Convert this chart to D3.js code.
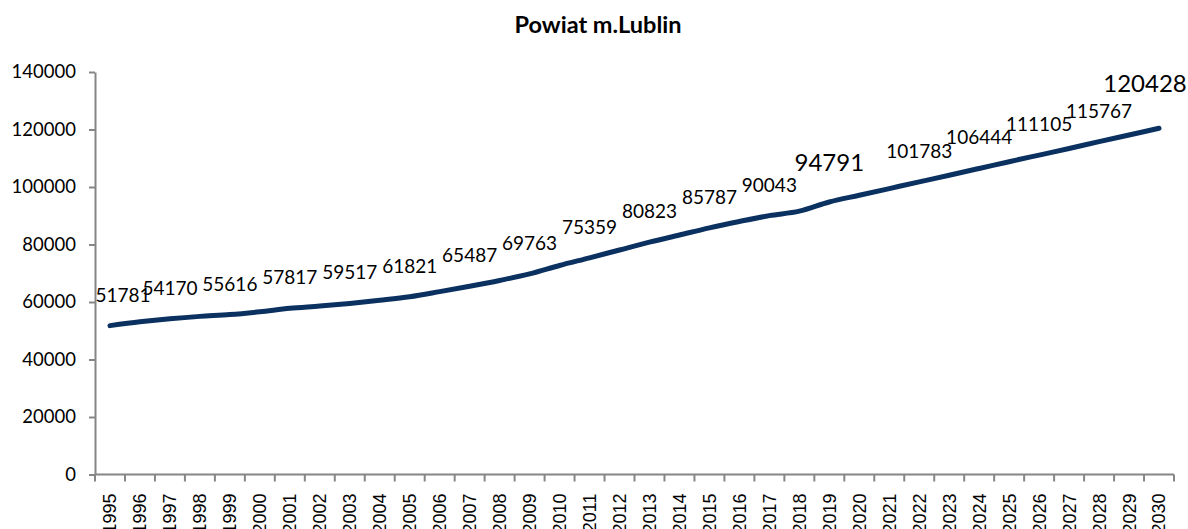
<!DOCTYPE html>
<html>
<head>
<meta charset="utf-8">
<script src="https://cdn.jsdelivr.net/npm/d3@7"></script>
<style>
  body { margin: 0; background: #fff; }
  .tick text { fill: #000; }
</style>
</head>
<body>
<div id="chart"></div>
<script>
var width = 1188, height = 529;
var margin = {top: 72, right: 14, bottom: 55, left: 95};

// data (even years between labels are estimates)
var years = ["1995","1996","1997","1998","1999","2000","2001","2002","2003","2004","2005","2006",
  "2007","2008","2009","2010","2011","2012","2013","2014","2015","2016","2017","2018",
  "2019","2020","2021","2022","2023","2024","2025","2026","2027","2028","2029","2030"];
var population = [51781, 53100, 54170, 55000, 55616, 56600, 57817, 58600, 59517, 60600, 61821, 63600,
  65487, 67500, 69763, 72700, 75359, 78100, 80823, 83300, 85787, 88000, 90043, 91600,
  94791, 97120, 99450, 101783, 104100, 106444, 108800, 111105, 113400, 115767, 118100, 120428];
var labelledYears = ["1995","1997","1999","2001","2003","2005","2007","2009","2011","2013","2015",
  "2017","2019","2022","2024","2026","2028","2030"];
var bigLabels = ["2019","2030"];
var yTicks = [0, 20000, 40000, 60000, 80000, 100000, 120000, 140000];
var title = "Powiat m.Lublin";

var svg = d3.select("#chart")
  .append("svg")
  .attr("width", width)
  .attr("height", height);

var x = d3.scaleBand()
  .domain(years)
  .range([margin.left, width - margin.right])
  .padding(0);

var y = d3.scaleLinear()
  .domain([0, 140000])
  .range([height - margin.bottom + 0.5, margin.top]);

svg.append("text")
  .text(title)
  .attr("x", 598)
  .attr("y", 33)
  .attr("text-anchor", "middle")
  .attr("font-family", "Lato, 'Liberation Sans', sans-serif")
  .attr("font-weight", "bold")
  .attr("font-size", "23.5px");

// y axis
var yAxis = svg.append("g")
  .attr("transform", "translate(" + margin.left + ",0)")
  .call(d3.axisLeft(y).tickValues(yTicks).tickSize(6).tickSizeOuter(0).tickPadding(13).tickFormat(d3.format("d")));
yAxis.selectAll("text")
  .attr("font-family", "Lato, 'Liberation Sans', sans-serif")
  .attr("font-size", "18.5px");
yAxis.selectAll("line, path").attr("stroke", "#868686").attr("stroke-width", 2);

// x axis with ticks between categories
var xAxis = svg.append("g")
  .attr("transform", "translate(0," + y(0) + ")");
xAxis.append("line")
  .attr("x1", margin.left)
  .attr("x2", width - margin.right)
  .attr("stroke", "#868686")
  .attr("stroke-width", 2);
xAxis.selectAll(".xtick")
  .data(years.concat(["end"]))
  .enter().append("line")
  .attr("x1", function(d, i) { return i < years.length ? x(d) : x.range()[1]; })
  .attr("x2", function(d, i) { return i < years.length ? x(d) : x.range()[1]; })
  .attr("y1", 0)
  .attr("y2", 7)
  .attr("stroke", "#868686")
  .attr("stroke-width", 2);
xAxis.selectAll(".xlabel")
  .data(years)
  .enter().append("text")
  .text(function(d) { return d; })
  .attr("transform", function(d) {
    return "translate(" + (x(d) + x.bandwidth() / 2) + ",19) rotate(-90)";
  })
  .attr("dy", "0.36em")
  .attr("text-anchor", "end")
  .attr("font-family", "'Liberation Sans', Arial, sans-serif")
  .attr("font-size", "18px");

// the line
var line = d3.line()
  .x(function(d, i) { return x(years[i]) + x.bandwidth() / 2; })
  .y(function(d) { return y(d); })
  .curve(d3.curveMonotoneX);

svg.append("path")
  .datum(population)
  .attr("d", line)
  .attr("fill", "none")
  .attr("stroke", "#0b3161")
  .attr("stroke-width", 5)
  .attr("stroke-linecap", "round")
  .attr("stroke-linejoin", "round");

// data labels
svg.selectAll(".dlabel")
  .data(labelledYears)
  .enter().append("text")
  .text(function(d) { return population[years.indexOf(d)]; })
  .attr("x", function(d) {
    var cx = x(d) + x.bandwidth() / 2;
    if (d == "1995") cx += 13;
    if (d == "2030") cx -= 14;
    return cx;
  })
  .attr("y", function(d) {
    var cy = y(population[years.indexOf(d)]);
    if (d == "2030") return cy - 36;
    if (d == "2019") return cy - 31;
    return cy - 24;
  })
  .attr("text-anchor", "middle")
  .attr("font-family", "Lato, 'Liberation Sans', sans-serif")
  .attr("font-size", function(d) { return bigLabels.indexOf(d) >= 0 ? "24px" : "19px"; });
</script>
</body>
</html>
